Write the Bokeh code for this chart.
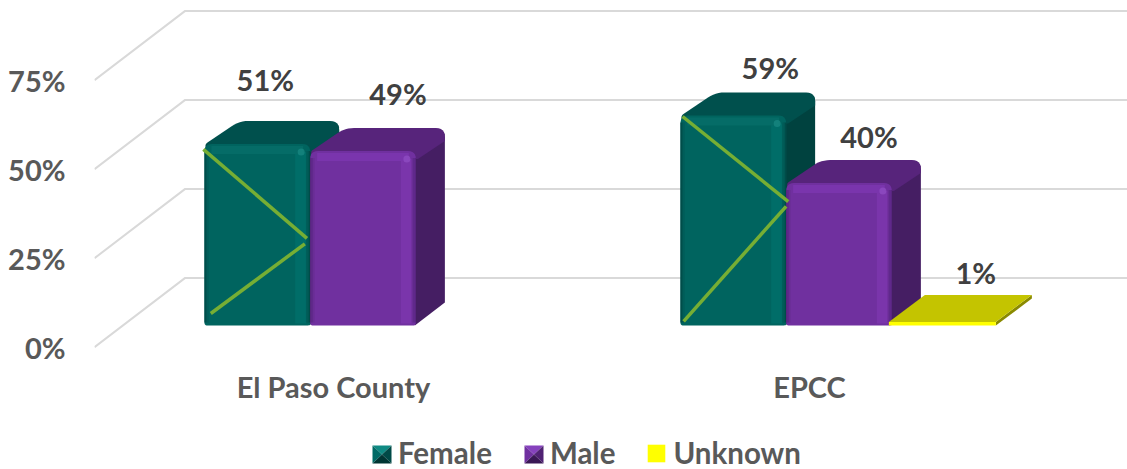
import math
from bokeh.plotting import figure
from bokeh.models import Range1d, FixedTicker, Legend, LegendItem, LinearAxis
from bokeh.embed import file_html
from bokeh.resources import INLINE
from bokeh.core.properties import value

# ---------- data ----------
categories = ["El Paso County", "EPCC"]
series_names = ["Female", "Male", "Unknown"]
female = [51, 59]
male = [49, 40]
unknown = [None, 1]
y_ticks = [0, 25, 50, 75]
tick_labels = ["0%", "25%", "50%", "75%"]
# the green strokes drawn over the Female bars: (x fraction of bar, height fraction of bar)
stroke_upper = [[(-0.01, 0.97), (0.97, 0.48)], [(0.02, 0.995), (1.02, 0.59)]]
stroke_lower = [[(0.95, 0.45), (0.06, 0.066)], [(1.0, 0.567), (0.03, 0.02)]]

# ---------- layout (reference-image pixels) ----------
W, H = 1127, 469
FL, FT, FB = 94, 0, 469      # frame left / top / bottom
FR = W
Y0, PY = 346.7, 3.56         # pixel of 0 %, pixels per %
X0, PX = 333.0, 476.0        # pixel of first category, pixels per category
GDX, GDY = 90.7, 69.3        # wall depth
BASE = 325.0
BW = 105.7
BOFF = 29.5
DDX, DDY = 29.0, 23.0
CAT_Y = 386
TEXT_UP = 2

def dx(s): return (s - X0) / PX
def dy(s): return (Y0 - s) / PY
def sx(c): return X0 + c * PX
def sy(v): return Y0 - v * PY
def bar_top(v): return BASE - v * PY

p = figure(width=W, height=H, output_backend="svg", toolbar_location=None,
           x_range=Range1d(dx(FL), dx(FR)), y_range=Range1d(dy(FB), dy(FT)),
           min_border_left=FL, min_border_right=0, min_border_top=0,
           min_border_bottom=0, outline_line_color=None,
           background_fill_color="white", border_fill_color="white",
           x_axis_location=None, y_axis_location=None)
p.xgrid.visible = False
p.ygrid.visible = False

FONT = "Lato"
yax = LinearAxis(ticker=FixedTicker(ticks=y_ticks),
                 major_label_overrides={t: l for t, l in zip(y_ticks, tick_labels)},
                 axis_line_color=None, major_tick_line_color=None, minor_tick_line_color=None,
                 major_tick_out=0, major_tick_in=0, major_label_standoff=29,
                 major_label_text_font=FONT, major_label_text_font_style="bold",
                 major_label_text_font_size="29px", major_label_text_color="#595959",
                 major_label_text_baseline="bottom")
p.add_layout(yax, "left")

# gridlines on floor/wall
gx, gy = [], []
for t in y_ticks:
    gx.append([dx(FL), dx(FL + GDX), dx(FR)])
    gy.append([t, dy(sy(t) - GDY), dy(sy(t) - GDY)])
p.multi_line(gx, gy, line_color="#d9d9d9", line_width=2)

def rounded(pts, radii, n=6):
    out = []
    k = len(pts)
    for i in range(k):
        a, b, c = pts[i - 1], pts[i], pts[(i + 1) % k]
        r = radii[i]
        if r <= 0:
            out.append(b)
            continue
        la = math.hypot(a[0] - b[0], a[1] - b[1])
        lc = math.hypot(c[0] - b[0], c[1] - b[1])
        ua = ((a[0] - b[0]) / la, (a[1] - b[1]) / la)
        uc = ((c[0] - b[0]) / lc, (c[1] - b[1]) / lc)
        s = (b[0] + ua[0] * r, b[1] + ua[1] * r)
        e = (b[0] + uc[0] * r, b[1] + uc[1] * r)
        for j in range(n + 1):
            t = j / n
            out.append(((1 - t) ** 2 * s[0] + 2 * t * (1 - t) * b[0] + t * t * e[0],
                        (1 - t) ** 2 * s[1] + 2 * t * (1 - t) * b[1] + t * t * e[1]))
    return out

def poly(pts, color, **kw):
    return p.patch([dx(a) for a, _ in pts], [dy(b) for _, b in pts], fill_color=color, line_color=None, **kw)

def strip(x0, x1, y0, y1, color):
    p.quad(left=[dx(x0)], right=[dx(x1)], top=[dy(y0)], bottom=[dy(y1)], fill_color=color, line_color=None)

PAL = {
    "Female": dict(front="#00645f", top="#00504d", side="#00423f",
                   edge=["#004c49", "#005652", "#005e5a"], light="#006d68", dot="#1a8a84",
                   topband="#056c67",
                   bevel=dict(top="#0f8a83", left="#006a65", right="#004a47", bottom="#003533")),
    "Male": dict(front="#70309f", top="#57247b", side="#451e63",
                 edge=["#56257c", "#60298b", "#692d95"], light="#7a35ab", dot="#9250c4",
                 topband="#7a35ad",
                 bevel=dict(top="#8642bd", left="#7030a0", right="#502273", bottom="#3a1855")),
}

front_renderers = {}
values = {"Female": female, "Male": male, "Unknown": unknown}

for si, name in enumerate(series_names[:2]):
    c = PAL[name]
    for g, v in enumerate(values[name]):
        L = sx(g) + BOFF + (si - 1.5) * BW
        R = L + BW
        T = bar_top(v)
        side = rounded([(R - 8, T + 6), (R + DDX, T - DDY), (R + DDX, BASE - DDY), (R - 1, BASE)], [0, 9, 0, 0])
        poly(side, c["side"])
        top = rounded([(L + 1, T + 8), (L + 1, T), (L + DDX + 6, T - DDY), (R + DDX, T - DDY),
                       (R + DDX, T - DDY + 13), (R + 2, T + 8)], [0, 2, 9, 9, 0, 0])
        poly(top, c["top"])
        front = rounded([(L, T), (R, T), (R, BASE), (L, BASE)], [8, 8, 3, 3])
        poly(front, c["front"])
        for k, e in enumerate(c["edge"]):
            strip(L + k * 1.5, L + (k + 1) * 1.5, T + 7, BASE - 3, e)
        strip(R - 15, R - 4, T + 8, BASE - 2, c["light"])
        for k, e in enumerate(c["edge"]):
            strip(R - (k + 1) * 1.4, R - k * 1.4, T + 7, BASE - 3, e)
        strip(L + 7, R - 7, T + 2, T + 10, c["topband"])
        p.scatter([dx(R - 9)], [dy(T + 8)], size=7, marker="circle", fill_color=c["dot"], line_color=None, fill_alpha=0.7)

# Unknown: a thin flat slab
UDX, UDY = 36.0, 27.0
for g, v in enumerate(unknown):
    if v is None:
        continue
    L = sx(g) + BOFF + 0.5 * BW - 3
    R = L + 107
    T = bar_top(v)
    poly([(R, T), (R + UDX, T - UDY), (R + UDX, BASE - UDY), (R, BASE)], "#8a8a00")
    poly([(L, T), (L + UDX, T - UDY), (R + UDX, T - UDY), (R, T)], "#c4c400")
    front_renderers["Unknown"] = poly([(L, T), (R, T), (R, BASE), (L, BASE)], "#ffff00")

# green strokes
for g, v in enumerate(female):
    L = sx(g) + BOFF - 1.5 * BW
    h = BASE - bar_top(v)
    for stroke in (stroke_upper[g], stroke_lower[g]):
        p.line([dx(L + fx * BW) for fx, _ in stroke], [dy(BASE - fy * h) for _, fy in stroke],
               line_color="#76ae34", line_width=3.5)

# data labels
label_off = {"Female": [(8, 39), (37, 23)], "Male": [(35, 33), (30, 22)], "Unknown": [None, (31, 20)]}
for si, name in enumerate(series_names):
    xs, ys, ts, xo, yo = [], [], [], [], []
    for g, v in enumerate(values[name]):
        if v is None:
            continue
        L = sx(g) + BOFF + (si - 1.5) * BW
        o = label_off[name][g]
        dep = UDY if name == "Unknown" else DDY
        xs.append(dx(L + BW / 2))
        ys.append(dy(bar_top(v) - dep))
        ts.append(f"{v}%")
        xo.append(o[0])
        yo.append(-o[1] - TEXT_UP)
    p.text(xs, ys, text=ts, x_offset=xo, y_offset=yo, text_align="center", text_baseline="middle",
           text_font=value(FONT), text_font_style="bold", text_font_size="29px", text_color="#404040")

# category labels
p.text(list(range(len(categories))), [dy(CAT_Y)] * len(categories), text=categories,
       text_align="center", text_baseline="middle", text_font=value(FONT), text_font_style="bold",
       text_font_size="29px", text_color="#595959")

# bevelled legend swatches: they sit where the legend's keys are; the keys for
# these two series are see-through so the bevel shows.
for name, x0 in (("Female", 372), ("Male", 524)):
    b = PAL[name]["bevel"]
    x1, y0, y1 = x0 + 19, 445, 463
    cx, cy = (x0 + x1) / 2, (y0 + y1) / 2
    poly([(x0, y0), (x1, y0), (cx, cy)], b["top"])
    poly([(x0, y0), (cx, cy), (x0, y1)], b["left"])
    poly([(x1, y0), (cx, cy), (x1, y1)], b["right"])
    poly([(x0, y1), (x1, y1), (cx, cy)], b["bottom"])
    front_renderers[name] = p.patch([], [], fill_alpha=0, line_color=None)

LEG_X, LEG_GLYPH = 370, 22
legend = Legend(items=[LegendItem(label=n, renderers=[front_renderers[n]]) for n in series_names],
                orientation="horizontal", location=(LEG_X - FL, -1),
                border_line_color=None, background_fill_alpha=0, padding=0, margin=0,
                glyph_width=LEG_GLYPH, glyph_height=LEG_GLYPH, spacing=30, label_standoff=6,
                label_text_font=FONT, label_text_font_style="bold",
                label_text_font_size="29.5px", label_text_color="#595959")
p.add_layout(legend, "center")

open("out.html", "w").write(file_html(p, INLINE))
